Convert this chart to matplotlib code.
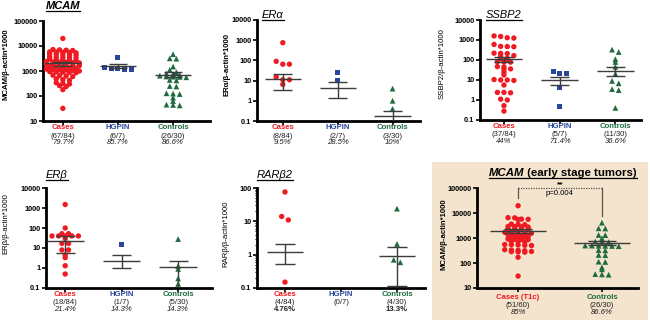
import numpy as np
import matplotlib
matplotlib.use('Agg')
import matplotlib.pyplot as plt
from matplotlib.patches import Rectangle
from matplotlib.lines import Line2D
from matplotlib.ticker import LogLocator, NullFormatter

plt.rcParams['font.family'] = ['Liberation Sans', 'DejaVu Sans']

# ---------------- data ----------------
group_names = ['Cases', 'HGPIN', 'Controls']

# MCAM
mcam_cases = [20000, 7200, 6800, 7000, 6600, 5800, 5500, 5600, 5300, 5700,
              4600, 4400, 4500, 4300, 4700, 3600, 3400, 3500, 3700, 3300,
              2900, 2700, 2800, 2600, 3000, 2300, 2100, 2200, 2250, 2150, 2400,
              1800, 1750, 1850, 1700, 1900, 1650, 1400, 1450, 1350, 1500, 1300,
              1100, 1150, 1050, 1200, 1000, 1120, 900, 880, 920, 850, 950,
              650, 600, 630, 680, 450, 420, 480, 320, 300, 340, 260, 240, 180, 32]
mcam_hgpin = [3600, 1400, 1300, 1200, 1200, 1250]
mcam_controls = [4700, 3200, 3100, 1500, 1100, 900, 800, 750, 700, 650, 600, 590,
                 580, 560, 440, 420, 250, 240, 128, 125, 120, 86, 63, 45, 44, 42]
mcam_mean = [2000, 1630, 690]
mcam_low = [1620, 1290, 590]
mcam_high = [2350, 1900, 890]
mcam_counts = ['(67/84)', '(6/7)', '(26/30)']
mcam_pct = ['79.7%', '85.7%', '86.6%']

# ER alpha
era_cases = [750, 90, 65, 65, 15, 11, 11, 6.5]
era_hgpin = [26, 10]
era_controls = [4.0, 1.0, 0.4]
era_mean = [12, 4.5, 0.17]
era_low = [3.4, 1.3, 0.05]
era_high = [22, 8.5, 0.32]
era_counts = ['(8/84)', '(2/7)', '(3/30)']
era_pct = ['9.5%', '28.5%', '10%']

# SSBP2
ssbp2_cases = [1600, 1500, 1300, 1250, 600, 470, 480, 460, 215, 220, 210, 165, 160,
               115, 105, 120, 80, 82, 78, 45, 47, 35, 36, 25, 18, 10, 10, 9.5, 10.5,
               5.6, 2.4, 2.4, 2.3, 1.1, 1.0, 0.52, 0.28]
ssbp2_hgpin = [26, 20, 21, 4.3, 0.45]
ssbp2_controls = [330, 250, 110, 80, 46, 20, 9, 6.8, 3.5, 3.1, 0.4]
ssbp2_mean = [110, 10.5, 28]
ssbp2_low = [76, 5.6, 16]
ssbp2_high = [145, 14, 45]
ssbp2_counts = ['(37/84)', '(5/7)', '(11/30)']
ssbp2_pct = ['44%', '71.4%', '36.6%']

# ER beta
erb_cases = [1500, 100, 52, 52, 40, 40, 40, 40, 40, 30, 17, 17, 8, 8, 4.5, 3.3, 1.3, 0.5]
erb_hgpin = [15]
erb_controls = [28, 1.26, 0.9, 0.3, 0.16]
erb_mean = [23, 2.2, 1.08]
erb_low = [5.4, 0.95, 0.05]
erb_high = [40, 4.5, 2.2]
erb_counts = ['(18/84)', '(1/7)', '(5/30)']
erb_pct = ['21.4%', '14.3%', '14.3%']

# RAR beta 2
rar_cases = [76, 14, 11, 0.15]
rar_hgpin = []
rar_controls = [24, 2.1, 0.7, 0.59]
rar_mean = [1.2, None, 0.93]
rar_low = [0.54, None, 0.117]
rar_high = [2.1, None, 1.7]
rar_counts = ['(4/84)', '(0/7)', '(4/30)']
rar_pct = ['4.76%', '', '13.3%']

# MCAM early stage
early_names = ['Cases (T1c)', 'Controls']
early_cases = [19600, 6500, 6400, 5600, 5700, 5500, 3500, 3600, 3400, 2850, 2900, 2800,
               2750, 2200, 2250, 2150, 2300, 1630, 1650, 1600, 1700, 1550, 1320, 1350,
               1130, 1100, 1150, 1080, 1180, 880, 900, 860, 920, 710, 730, 690, 525,
               540, 510, 500, 550, 330, 340, 320, 310, 285, 290, 280, 270, 170, 30]
early_controls = [4100, 2440, 2400, 1320, 1300, 970, 720, 700, 690, 500, 490, 480, 495,
                  485, 470, 330, 320, 210, 205, 113, 110, 67, 56, 35, 36, 34]
early_mean = [1900, 650]
early_low = [1550, 540]
early_high = [2300, 780]
early_counts = ['(51/60)', '(26/30)']
early_pct = ['85%', '86.6%']
p_text = 'p=0.004'

# ---------------- style ----------------
W, H = 650, 322
RED = '#F01A22'
BLUE = '#27469C'
GREEN = '#1E6B3E'
GREY = '#3C3C3C'
BEIGE = '#F4E4CD'
colors3 = [RED, BLUE, GREEN]
markers3 = ['o', 's', '^']
msize = {'o': 15, 's': 13, '^': 17}

fig = plt.figure(figsize=(W / 100, H / 100), dpi=100)
fig.add_artist(Rectangle((432 / W, 2 / H), (648 - 432) / W, (320 - 162) / H,
                         transform=fig.transFigure, facecolor=BEIGE,
                         edgecolor='none', zorder=0))


def make_axes(l, t, r, b, ylim, xlim):
    ax = fig.add_axes([l / W, 1 - b / H, (r - l) / W, (b - t) / H])
    ax.patch.set_alpha(0)
    ax.set_yscale('log')
    ax.set_ylim(ylim)
    ax.set_xlim(xlim)
    for s in ['top', 'right']:
        ax.spines[s].set_visible(False)
    for s in ['left', 'bottom']:
        ax.spines[s].set_linewidth(2.0)
    e0, e1 = int(round(np.log10(ylim[0]))), int(round(np.log10(ylim[1])))
    ticks = [10.0 ** e for e in range(e0, e1 + 1)]
    ax.set_yticks(ticks)
    ax.set_yticklabels([f'{v:g}' for v in ticks], fontsize=5.3, fontweight='bold')
    ax.yaxis.set_minor_locator(LogLocator(base=10, subs=range(2, 10)))
    ax.yaxis.set_minor_formatter(NullFormatter())
    ax.tick_params(axis='y', which='major', length=3, width=1.2, pad=1)
    ax.tick_params(axis='y', which='minor', length=1.6, width=0.8)
    ax.tick_params(axis='x', length=3, width=1.2)
    return ax


def row_layout(ax, x0, vals, row_h=3.4, spacing=6.6):
    """GraphPad-like scatter: bin points into rows (pixels) and spread each row."""
    vals = np.asarray(vals, dtype=float)
    if len(vals) == 0:
        return np.array([])
    pts = ax.transData.transform(np.column_stack([np.full(len(vals), x0), vals]))
    ys = pts[:, 1]
    xc = pts[0, 0]
    order = np.argsort(-ys, kind='stable')
    offs = np.zeros(len(vals))
    rows = []
    cur = [order[0]]
    for i in order[1:]:
        if ys[cur[0]] - ys[i] <= row_h:
            cur.append(i)
        else:
            rows.append(cur)
            cur = [i]
    rows.append(cur)
    for row in rows:
        n = len(row)
        for j, i in enumerate(row):
            offs[i] = (j - (n - 1) / 2) * spacing
    disp = np.column_stack([xc + offs, ys])
    return ax.transData.inverted().transform(disp)[:, 0]


def draw_groups(ax, groups, means, lows, highs, cols, marks, row_h=3.4, spacing=6.6):
    for k, vals in enumerate(groups):
        if len(vals):
            xs = row_layout(ax, k, vals, row_h, spacing)
            ax.scatter(xs, vals, s=msize[marks[k]], marker=marks[k], color=cols[k],
                       edgecolors='none', zorder=3, clip_on=False)
        if means[k] is not None:
            ax.hlines(means[k], k - 0.33, k + 0.33, color=GREY, lw=1.0, zorder=4)
            ax.hlines([lows[k], highs[k]], k - 0.17, k + 0.17, color=GREY, lw=1.0, zorder=4)
            ax.vlines(k, lows[k], highs[k], color=GREY, lw=1.0, zorder=4)


def cat_labels(ax, names, counts, pcts, cols, offs=(5, 10.8, 15.2), pct_style='italic',
               pct_weight='normal'):
    ax.set_xticks(range(len(names)))
    ax.set_xticklabels([])
    for k, (n, c, p) in enumerate(zip(names, counts, pcts)):
        kw = dict(xycoords=('data', 'axes fraction'), textcoords='offset points',
                  ha='center', va='center', annotation_clip=False)
        ax.annotate(n, (k, 0), xytext=(0, -offs[0]), color=cols[k], fontsize=5.6,
                    fontweight='bold', **kw)
        ax.annotate(c, (k, 0), xytext=(0, -offs[1]), color='#222222', fontsize=5.6, **kw)
        if p:
            ax.annotate(p, (k, 0), xytext=(0, -offs[2]), color='#222222', fontsize=5.6,
                        fontstyle=pct_style, fontweight=pct_weight, **kw)


def ylabel(x, y, text, bold=True):
    fig.text(x / W, 1 - y / H, text, rotation=90, ha='center', va='center',
             fontsize=5.6, fontweight='bold' if bold else 'normal')


titles = []


def title(x, y, text, bold=False, size=8):
    t = fig.text(x / W, 1 - y / H, text, ha='center', va='center', fontsize=size,
                 fontstyle='italic', fontweight='bold' if bold else 'normal')
    titles.append([t])
    return t


# Panel 1 MCAM
ax1 = make_axes(43, 21, 210, 121, (10, 1e5), (-0.36, 2.67))
draw_groups(ax1, [mcam_cases, mcam_hgpin, mcam_controls], mcam_mean, mcam_low,
            mcam_high, colors3, markers3, row_h=2.2)
cat_labels(ax1, group_names, mcam_counts, mcam_pct, colors3)
ylabel(6, 64, 'MCAM/β-actin*1000')
title(63, 6, 'MCAM', bold=True)

# Panel 2 ER alpha
ax2 = make_axes(257, 20, 420, 121, (0.1, 1e4), (-0.47, 2.5))
draw_groups(ax2, [era_cases, era_hgpin, era_controls], era_mean, era_low,
            era_high, colors3, markers3, row_h=3.5)
cat_labels(ax2, group_names, era_counts, era_pct, colors3)
ylabel(227, 64, 'ERα/β-actin*1000')
title(273, 15, 'ERα')

# Panel 3 SSBP2
ax3 = make_axes(480, 20, 641, 120, (0.1, 1e4), (-0.43, 2.46))
draw_groups(ax3, [ssbp2_cases, ssbp2_hgpin, ssbp2_controls], ssbp2_mean, ssbp2_low,
            ssbp2_high, colors3, markers3, row_h=2.5)
cat_labels(ax3, group_names, ssbp2_counts, ssbp2_pct, colors3)
ylabel(442, 64, 'SSBP2/β-actin*1000', bold=False)
title(504, 15, 'SSBP2')

# Panel 4 ER beta
ax4 = make_axes(46, 188, 212, 288, (0.1, 1e4), (-0.34, 2.6))
draw_groups(ax4, [erb_cases, erb_hgpin, erb_controls], erb_mean, erb_low,
            erb_high, colors3, markers3, row_h=1.5)
cat_labels(ax4, group_names, erb_counts, erb_pct, colors3)
ylabel(6, 224, 'ERβ/β-actin*1000', bold=False)
title(57, 175, 'ERβ')

# Panel 5 RAR beta 2
ax5 = make_axes(257, 188, 425, 288, (0.1, 100), (-0.5, 2.5))
draw_groups(ax5, [rar_cases, rar_hgpin, rar_controls], rar_mean, rar_low,
            rar_high, colors3, markers3, row_h=4.0)
cat_labels(ax5, group_names, rar_counts, rar_pct, colors3, pct_style='normal',
           pct_weight='bold')
ylabel(226, 234, 'RARβ/β-actin*1000', bold=False)
title(275, 175, 'RARβ2')

# Panel 6 MCAM early stage
ax6 = make_axes(477, 188, 638, 288, (10, 1e5), (-0.49, 1.43))
draw_groups(ax6, [early_cases, early_controls], early_mean, early_low, early_high,
            [RED, GREEN], ['o', '^'], row_h=1.8, spacing=6.7)
cat_labels(ax6, early_names, early_counts, early_pct, [RED, GREEN],
           offs=(6.5, 12.7, 18))
ylabel(444, 234, 'MCAM/β-actin*1000')
ax6.plot([0, 0], [40000, 1e5], color='#555555', lw=0.9, clip_on=False, zorder=4)
ax6.plot([1, 1], [7600, 1e5], color='#555555', lw=0.9, clip_on=False, zorder=4)
ax6.plot([0, 1], [1e5, 1e5], color='#555555', lw=0.9, ls=(0, (1, 1)), clip_on=False,
         zorder=4)
ax6.text(0.5, 1e5, '**', ha='center', va='bottom', fontsize=6, fontweight='bold',
         clip_on=False)
ax6.text(0.5, 63000, p_text, ha='center', va='center', fontsize=5.6, clip_on=False)

t6a = fig.text(0, 1 - 173 / H, 'MCAM', ha='left', va='center', fontsize=8.2,
               fontstyle='italic', fontweight='bold')
t6b = fig.text(0, 1 - 173 / H, ' (early stage tumors)', ha='left', va='center',
               fontsize=8.2, fontweight='bold')

fig.canvas.draw()
r = fig.canvas.get_renderer()
w1 = t6a.get_window_extent(r).width
w2 = t6b.get_window_extent(r).width
x0 = 563 - (w1 + w2) / 2
t6a.set_x(x0 / W)
t6b.set_x((x0 + w1) / W)
titles.append([t6a, t6b])
fig.canvas.draw()

for grp in titles:
    bbs = [t.get_window_extent(r) for t in grp]
    xa = min(b.x0 for b in bbs)
    xb = max(b.x1 for b in bbs)
    yb = min(b.y0 for b in bbs) + 0.5
    fig.add_artist(Line2D([xa / W, xb / W], [yb / H, yb / H], color='black', lw=0.9,
                          transform=fig.transFigure))

fig.savefig('out.png', dpi=100)
